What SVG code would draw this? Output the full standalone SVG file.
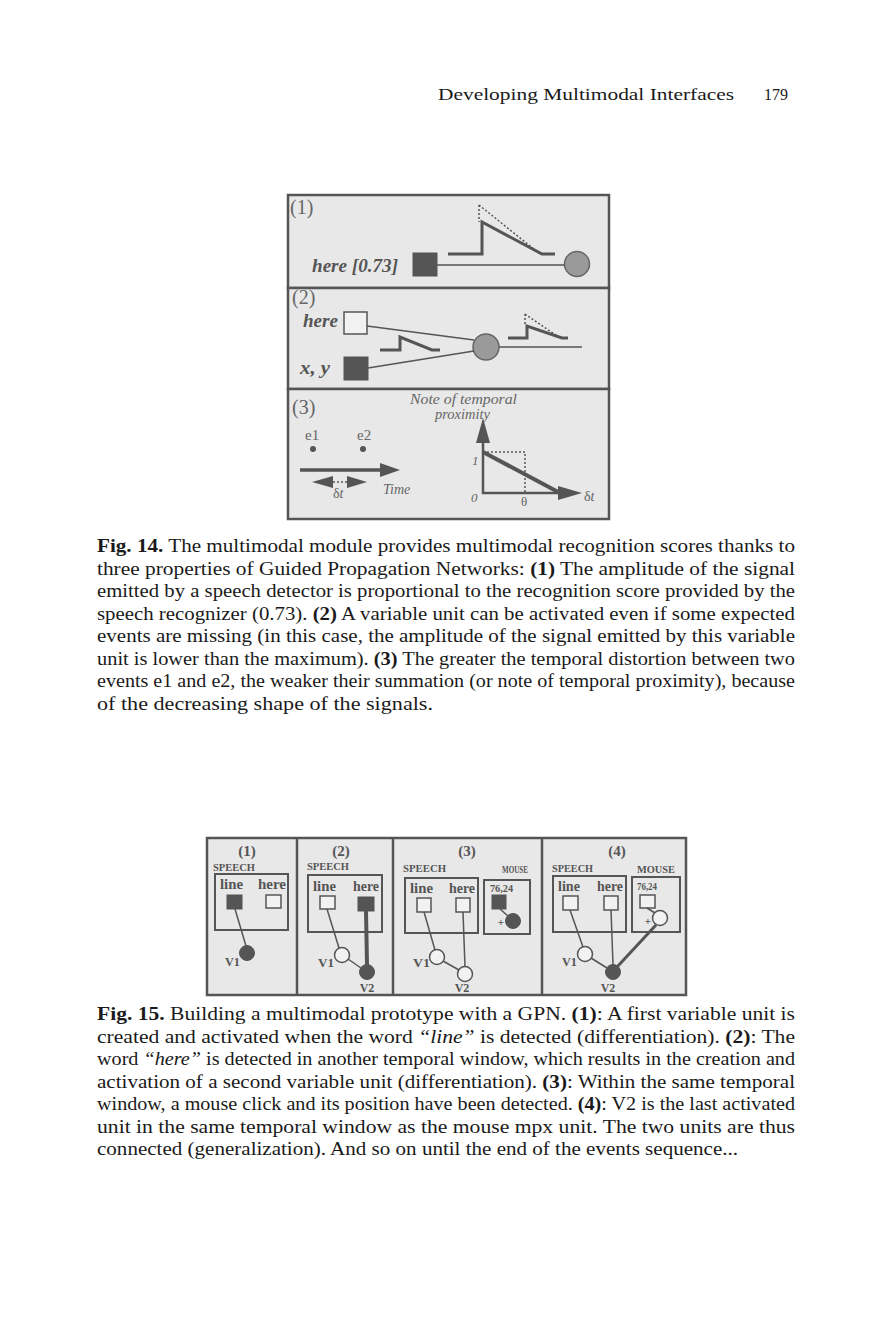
<svg xmlns="http://www.w3.org/2000/svg" width="882" height="1332" viewBox="0 0 882 1332">
<style>
.page{font-family:"Liberation Serif","DejaVu Serif",serif;fill:#1a1a1a}
.cap{font-family:"Liberation Serif","DejaVu Serif",serif;font-size:18.5px;fill:#1a1a1a}
.b{font-weight:bold}
.it{font-style:italic}
.panel{fill:#e8e8e8;stroke:#555;stroke-width:2.5}
.lbl{font-family:"Liberation Serif","DejaVu Serif",serif;fill:#666}
.bi{font-family:"Liberation Serif","DejaVu Serif",serif;font-weight:bold;font-style:italic;fill:#555}
.sig{fill:none;stroke:#555;stroke-width:3}
.dot{fill:none;stroke:#555;stroke-width:1.5;stroke-dasharray:2 2}
.wire{fill:none;stroke:#555;stroke-width:1.5}
.thick{fill:none;stroke:#555;stroke-width:4}
.dark{fill:#555;stroke:#555;stroke-width:1}
.empty{fill:#f2f2f2;stroke:#555;stroke-width:1.5}
.f15{font-family:"Liberation Serif","DejaVu Serif",serif;font-weight:bold;fill:#555}
.box{fill:none;stroke:#555;stroke-width:2}
.hd{fill:#555}
</style>

<g id="header">
<text class="page" x="438" y="100" font-size="17.5" textLength="296" lengthAdjust="spacingAndGlyphs">Developing Multimodal Interfaces</text>
<text class="page" x="764" y="100" font-size="17.5" textLength="24" lengthAdjust="spacingAndGlyphs">179</text>
</g>

<!-- Figure 14 -->
<g id="fig14">
<g id="fig14-panel1">
<rect class="panel" x="288" y="195" width="321" height="93"/>
<text class="lbl" x="290" y="214" font-size="20">(1)</text>
<text class="bi" x="312" y="272" font-size="19" textLength="86" lengthAdjust="spacingAndGlyphs">here [0.73]</text>
<rect id="p1-detector" class="dark" x="413" y="253" width="24" height="23"/>
<circle id="p1-unit" cx="577" cy="264" r="12.5" fill="#9a9a9a" stroke="#666" stroke-width="1.5"/>
</g>
<g id="fig14-panel2">
<rect class="panel" x="288" y="288" width="321" height="101"/>
<text class="lbl" x="292" y="304" font-size="20">(2)</text>
<text class="bi" x="303" y="327" font-size="19" textLength="35" lengthAdjust="spacingAndGlyphs">here</text>
<text class="bi" x="300" y="374" font-size="19" textLength="30" lengthAdjust="spacingAndGlyphs">x, y</text>
<rect id="p2-here" class="empty" x="344" y="312" width="23" height="22"/>
<rect id="p2-xy" class="dark" x="344" y="357" width="24" height="23"/>
<circle id="p2-unit" cx="486" cy="347" r="13" fill="#9a9a9a" stroke="#666" stroke-width="1.5"/>
</g>
<g id="fig14-panel3">
<rect class="panel" x="288" y="389" width="321" height="130"/>
<text class="lbl" x="292" y="414" font-size="20">(3)</text>
<text class="lbl it" x="410" y="404" font-size="14" textLength="107" lengthAdjust="spacingAndGlyphs">Note of temporal</text>
<text class="lbl it" x="435" y="419" font-size="14" textLength="55" lengthAdjust="spacingAndGlyphs">proximity</text>
<text class="lbl" x="305" y="440" font-size="15">e1</text>
<text class="lbl" x="357" y="440" font-size="15">e2</text>
<circle id="e1" cx="313" cy="449" r="3" fill="#555"/>
<circle id="e2" cx="363" cy="449" r="3" fill="#555"/>
<text class="lbl it" x="383" y="494" font-size="14">Time</text>
<text class="lbl" x="333" y="498" font-size="14">δ<tspan class="it">t</tspan></text>
<text class="lbl it" x="472" y="465" font-size="13">1</text>
<text class="lbl it" x="471" y="502" font-size="13">0</text>
<text class="lbl" x="521" y="506" font-size="13">θ</text>
<text class="lbl" x="584" y="501" font-size="14">δ<tspan class="it">t</tspan></text>
</g>
</g>

<g id="fig14-connectors">
<line class="wire" x1="437" y1="265" x2="565" y2="265"/>
<path class="sig" d="M448,254 H482 V222 L542,254 H555"/>
<path class="dot" d="M479,205 V222 M479,205 L540,254"/>
<line class="wire" x1="367" y1="326" x2="474" y2="340"/>
<line class="wire" x1="368" y1="368" x2="474" y2="351"/>
<line class="wire" x1="499" y1="347" x2="582" y2="347"/>
<path class="sig" d="M380,350 H400 V337 L432,350 H440"/>
<path class="sig" d="M508,338 H527 V326 L562,338 H568"/>
<path class="dot" d="M525,314 V326 M525,314 L560,338"/>
<line x1="300" y1="470" x2="385" y2="470" stroke="#555" stroke-width="3.5"/>
<polygon class="hd" points="400,470 380,463 380,477"/>
<polygon class="hd" points="312,482 333,476 333,488"/>
<polygon class="hd" points="367,482 347,476 347,488"/>
<line class="dot" x1="333" y1="482" x2="347" y2="482"/>
<line x1="483" y1="494" x2="483" y2="440" stroke="#555" stroke-width="2.5"/>
<polygon class="hd" points="483,418 476,443 490,443"/>
<line x1="482" y1="493" x2="560" y2="493" stroke="#555" stroke-width="2.5"/>
<polygon class="hd" points="582,493 558,486 558,500"/>
<line x1="483" y1="452" x2="560" y2="493" stroke="#555" stroke-width="4"/>
<path class="dot" d="M483,452 H525 V493"/>
</g>

<g id="caption14" class="cap">
<text x="97" y="552" textLength="698" lengthAdjust="spacingAndGlyphs"><tspan class="b">Fig. 14.</tspan> The multimodal module provides multimodal recognition scores thanks to</text>
<text x="97" y="574.5" textLength="698" lengthAdjust="spacingAndGlyphs">three properties of Guided Propagation Networks: <tspan class="b">(1)</tspan> The amplitude of the signal</text>
<text x="97" y="597" textLength="698" lengthAdjust="spacingAndGlyphs">emitted by a speech detector is proportional to the recognition score provided by the</text>
<text x="97" y="619.5" textLength="698" lengthAdjust="spacingAndGlyphs">speech recognizer (0.73). <tspan class="b">(2)</tspan> A variable unit can be activated even if some expected</text>
<text x="97" y="642" textLength="698" lengthAdjust="spacingAndGlyphs">events are missing (in this case, the amplitude of the signal emitted by this variable</text>
<text x="97" y="664.5" textLength="698" lengthAdjust="spacingAndGlyphs">unit is lower than the maximum). <tspan class="b">(3)</tspan> The greater the temporal distortion between two</text>
<text x="97" y="687" textLength="698" lengthAdjust="spacingAndGlyphs">events e1 and e2, the weaker their summation (or note of temporal proximity), because</text>
<text x="97" y="709.5" textLength="336" lengthAdjust="spacingAndGlyphs">of the decreasing shape of the signals.</text>
</g>

<!-- Figure 15 -->
<g id="fig15">
<rect class="panel" x="207" y="838" width="479" height="157"/>
<line x1="297" y1="838" x2="297" y2="995" stroke="#555" stroke-width="2.5"/>
<line x1="393" y1="838" x2="393" y2="995" stroke="#555" stroke-width="2.5"/>
<line x1="542" y1="838" x2="542" y2="995" stroke="#555" stroke-width="2.5"/>

<g id="f15-panel1">
<text class="f15" x="247" y="856" font-size="15" text-anchor="middle">(1)</text>
<text class="f15" x="213" y="871" font-size="11" textLength="42" lengthAdjust="spacingAndGlyphs">SPEECH</text>
<rect class="box" x="215" y="874" width="73" height="56"/>
<text class="f15" x="220" y="889" font-size="15" textLength="23" lengthAdjust="spacingAndGlyphs">line</text>
<text class="f15" x="258" y="889" font-size="15" textLength="28" lengthAdjust="spacingAndGlyphs">here</text>
<rect id="f15-1-line" class="dark" x="227" y="895" width="15" height="14"/>
<rect id="f15-1-here" class="empty" x="266" y="895" width="15" height="13"/>
<circle id="f15-1-V1" cx="247" cy="953" r="7.5" fill="#555" stroke="#555"/>
<text class="f15" x="225" y="966" font-size="13" textLength="15" lengthAdjust="spacingAndGlyphs">V1</text>
</g>

<g id="f15-panel2">
<text class="f15" x="341" y="856" font-size="15" text-anchor="middle">(2)</text>
<text class="f15" x="307" y="870" font-size="11" textLength="42" lengthAdjust="spacingAndGlyphs">SPEECH</text>
<rect class="box" x="308" y="875" width="74" height="57"/>
<text class="f15" x="313" y="891" font-size="15" textLength="23" lengthAdjust="spacingAndGlyphs">line</text>
<text class="f15" x="353" y="891" font-size="15" textLength="26" lengthAdjust="spacingAndGlyphs">here</text>
<rect id="f15-2-line" class="empty" x="320" y="896" width="15" height="13"/>
<rect id="f15-2-here" class="dark" x="358" y="897" width="16" height="14"/>
<circle id="f15-2-V1" cx="342" cy="955" r="7.5" fill="#f2f2f2" stroke="#555" stroke-width="1.5"/>
<circle id="f15-2-V2" cx="367" cy="972" r="7.5" fill="#555" stroke="#555"/>
<text class="f15" x="318" y="967" font-size="13" textLength="16" lengthAdjust="spacingAndGlyphs">V1</text>
<text class="f15" x="367" y="992" font-size="12" text-anchor="middle">V2</text>
</g>

<g id="f15-panel3">
<text class="f15" x="467" y="856" font-size="15" text-anchor="middle">(3)</text>
<text class="f15" x="403" y="872" font-size="11" textLength="43" lengthAdjust="spacingAndGlyphs">SPEECH</text>
<text class="f15" x="502" y="873" font-size="10" textLength="26" lengthAdjust="spacingAndGlyphs">MOUSE</text>
<rect class="box" x="405" y="878" width="73" height="55"/>
<rect class="box" x="484" y="880" width="46" height="54"/>
<text class="f15" x="410" y="893" font-size="15" textLength="23" lengthAdjust="spacingAndGlyphs">line</text>
<text class="f15" x="449" y="893" font-size="15" textLength="26" lengthAdjust="spacingAndGlyphs">here</text>
<text class="f15" x="490" y="892" font-size="10" textLength="23" lengthAdjust="spacingAndGlyphs">76,24</text>
<rect id="f15-3-line" class="empty" x="417" y="898" width="14" height="14"/>
<rect id="f15-3-here" class="empty" x="456" y="898" width="14" height="14"/>
<rect id="f15-3-mouse" class="dark" x="492" y="895" width="14" height="14"/>
<circle id="f15-3-mpx" cx="513" cy="921" r="7.5" fill="#555" stroke="#555"/>
<text class="f15" x="501" y="926" font-size="11" text-anchor="middle">+</text>
<circle id="f15-3-V1" cx="437" cy="957" r="7.5" fill="#f2f2f2" stroke="#555" stroke-width="1.5"/>
<circle id="f15-3-V2" cx="465" cy="974" r="7.5" fill="#f2f2f2" stroke="#555" stroke-width="1.5"/>
<text class="f15" x="413" y="967" font-size="13" textLength="17" lengthAdjust="spacingAndGlyphs">V1</text>
<text class="f15" x="462" y="992" font-size="12" text-anchor="middle">V2</text>
</g>

<g id="f15-panel4">
<text class="f15" x="617" y="856" font-size="15" text-anchor="middle">(4)</text>
<text class="f15" x="552" y="872" font-size="11" textLength="41" lengthAdjust="spacingAndGlyphs">SPEECH</text>
<text class="f15" x="637" y="873" font-size="10" textLength="38" lengthAdjust="spacingAndGlyphs">MOUSE</text>
<rect class="box" x="553" y="876" width="73" height="56"/>
<rect class="box" x="632" y="877" width="48" height="55"/>
<text class="f15" x="558" y="891" font-size="15" textLength="22" lengthAdjust="spacingAndGlyphs">line</text>
<text class="f15" x="597" y="891" font-size="15" textLength="26" lengthAdjust="spacingAndGlyphs">here</text>
<text class="f15" x="637" y="890" font-size="10" textLength="20" lengthAdjust="spacingAndGlyphs">76,24</text>
<rect id="f15-4-line" class="empty" x="563" y="896" width="15" height="14"/>
<rect id="f15-4-here" class="empty" x="604" y="896" width="14" height="14"/>
<rect id="f15-4-mouse" class="empty" x="640" y="895" width="15" height="13"/>
<circle id="f15-4-mpx" cx="660" cy="918" r="7.5" fill="#f2f2f2" stroke="#555" stroke-width="1.5"/>
<text class="f15" x="648" y="925" font-size="11" text-anchor="middle">+</text>
<circle id="f15-4-V1" cx="585" cy="954" r="7.5" fill="#f2f2f2" stroke="#555" stroke-width="1.5"/>
<circle id="f15-4-V2" cx="613" cy="972" r="7.5" fill="#555" stroke="#555"/>
<text class="f15" x="562" y="966" font-size="13" textLength="15" lengthAdjust="spacingAndGlyphs">V1</text>
<text class="f15" x="608" y="992" font-size="12" text-anchor="middle">V2</text>
</g>
</g>

<g id="fig15-connectors">
<line class="wire" x1="235" y1="909" x2="246" y2="946"/>
<line class="wire" x1="327" y1="909" x2="339" y2="948"/>
<line class="thick" x1="366" y1="911" x2="367" y2="965"/>
<line class="wire" x1="348" y1="959" x2="361" y2="968"/>
<line class="wire" x1="424" y1="912" x2="435" y2="950"/>
<line class="wire" x1="463" y1="912" x2="465" y2="967"/>
<line class="wire" x1="443" y1="961" x2="459" y2="970"/>
<line class="wire" x1="500" y1="909" x2="508" y2="916"/>
<line class="wire" x1="570" y1="910" x2="583" y2="947"/>
<line class="wire" x1="611" y1="910" x2="613" y2="965"/>
<line class="wire" x1="591" y1="958" x2="607" y2="968"/>
<line class="wire" x1="647" y1="908" x2="655" y2="913"/>
<line x1="656" y1="925" x2="617" y2="967" stroke="#555" stroke-width="3"/>
</g>

<g id="caption15" class="cap">
<text x="97" y="1020" textLength="698" lengthAdjust="spacingAndGlyphs"><tspan class="b">Fig. 15.</tspan> Building a multimodal prototype with a GPN. <tspan class="b">(1)</tspan>: A first variable unit is</text>
<text x="97" y="1042.5" textLength="698" lengthAdjust="spacingAndGlyphs">created and activated when the word <tspan class="it">“line”</tspan> is detected (differentiation). <tspan class="b">(2)</tspan>: The</text>
<text x="97" y="1065" textLength="698" lengthAdjust="spacingAndGlyphs">word <tspan class="it">“here”</tspan> is detected in another temporal window, which results in the creation and</text>
<text x="97" y="1087.5" textLength="698" lengthAdjust="spacingAndGlyphs">activation of a second variable unit (differentiation). <tspan class="b">(3)</tspan>: Within the same temporal</text>
<text x="97" y="1110" textLength="698" lengthAdjust="spacingAndGlyphs">window, a mouse click and its position have been detected. <tspan class="b">(4)</tspan>: V2 is the last activated</text>
<text x="97" y="1132.5" textLength="698" lengthAdjust="spacingAndGlyphs">unit in the same temporal window as the mouse mpx unit. The two units are thus</text>
<text x="97" y="1155" textLength="641" lengthAdjust="spacingAndGlyphs">connected (generalization). And so on until the end of the events sequence...</text>
</g>
</svg>
